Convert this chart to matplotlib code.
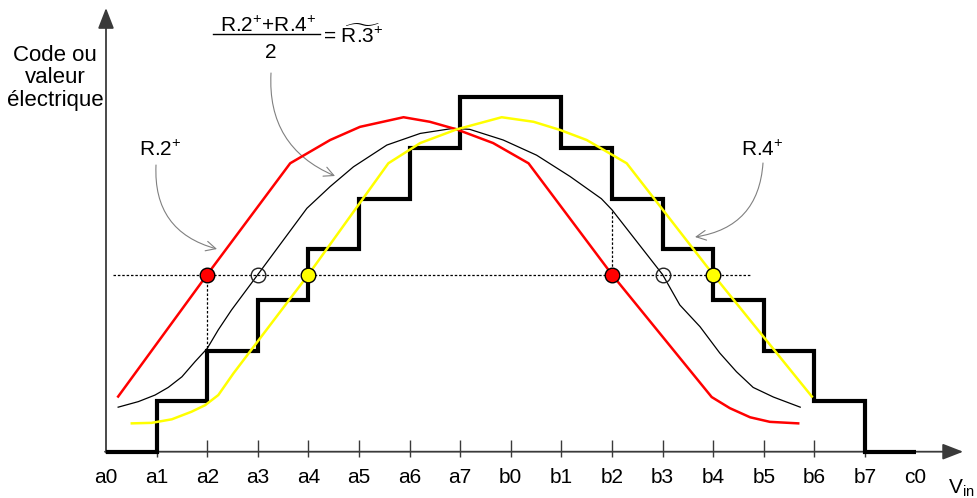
import matplotlib.pyplot as plt
from matplotlib.lines import Line2D

plt.rcParams['font.family'] = ['Liberation Sans', 'DejaVu Sans']
plt.rcParams['mathtext.fontset'] = 'custom'
plt.rcParams['mathtext.rm'] = 'Liberation Sans'
plt.rcParams['mathtext.it'] = 'Liberation Sans:italic'
plt.rcParams['mathtext.bf'] = 'Liberation Sans:bold'

# x axis codes (one unit per tick)
tick_labels = ['a0', 'a1', 'a2', 'a3', 'a4', 'a5', 'a6', 'a7',
               'b0', 'b1', 'b2', 'b3', 'b4', 'b5', 'b6', 'b7', 'c0']

# output code staircase
step_edges = [0, 1, 2, 3, 4, 5, 6, 7, 9, 10, 11, 12, 13, 14, 15, 16]
step_codes = [0, 1, 2, 3, 4, 5, 6, 7, 6, 5, 4, 3, 2, 1, 0]

# R.2+ (red)
red_x = [0.24, 2.0, 3.64, 4.43, 5.02, 5.88, 6.40, 6.93, 7.65, 8.35, 10.0,
         11.97, 12.33, 12.73, 13.12, 13.68]
red_y = [1.09, 3.5, 5.70, 6.16, 6.42, 6.61, 6.52, 6.37, 6.10, 5.70, 3.5,
         1.08, 0.86, 0.68, 0.59, 0.56]

# R.4+ (yellow)
yel_x = [0.51, 0.90, 1.30, 1.69, 1.96, 2.22, 2.52, 4.0, 5.58, 6.21, 6.93,
         7.82, 8.45, 8.97, 9.50, 10.29, 12.0, 13.95]
yel_y = [0.56, 0.57, 0.64, 0.79, 0.92, 1.12, 1.55, 3.5, 5.70, 6.10, 6.37,
         6.61, 6.52, 6.36, 6.16, 5.70, 3.5, 1.09]

# (R.2+ + R.4+)/2 (thin black)
avg_x = [0.24, 0.64, 0.97, 1.23, 1.50, 1.76, 2.0, 2.22, 2.48, 3.0, 3.97,
         4.43, 4.89, 5.55, 6.21, 6.86, 7.19, 7.85, 8.51, 9.17, 9.79, 10.0,
         11.0, 11.34, 11.74, 12.13, 12.46, 12.79, 13.19, 13.72]
avg_y = [0.88, 0.99, 1.12, 1.27, 1.48, 1.78, 2.04, 2.41, 2.80, 3.5, 4.81,
         5.24, 5.63, 6.06, 6.29, 6.39, 6.37, 6.16, 5.86, 5.44, 5.00, 4.78,
         3.5, 2.90, 2.47, 1.95, 1.58, 1.27, 1.08, 0.88]

level = 3.5
red_hits = [2, 10]
yel_hits = [4, 12]
avg_hits = [3, 11]


def fx(px):
    return px / 977


def fy(py):
    return 1 - py / 498


fig = plt.figure(figsize=(9.77, 4.98), dpi=100)
ax = fig.add_axes([0, 0, 1, 1])
ax.set_xlim(-106 / 50.6, (977 - 106) / 50.6)
ax.set_ylim(-(498 - 451.7) / 50.6, 451.7 / 50.6)
ax.axis('off')

axis_col = '#3a3a3a'
ax.annotate('', xy=(0, 8.77), xytext=(0, -0.02),
            arrowprops=dict(arrowstyle='-|>,head_length=0.9,head_width=0.35',
                            mutation_scale=14, color=axis_col, lw=1.3,
                            shrinkA=0, shrinkB=0))
ax.annotate('', xy=(16.94, 0), xytext=(-0.02, 0),
            arrowprops=dict(arrowstyle='-|>,head_length=0.9,head_width=0.35',
                            mutation_scale=14, color=axis_col, lw=1.3,
                            shrinkA=0, shrinkB=0))

ticks = list(range(len(tick_labels)))
ax.vlines(ticks[1:-1], -0.1, 0.23, color=axis_col, lw=1)
for t, lab in zip(ticks, tick_labels):
    ax.text(t, -0.5, lab, ha='center', va='center', fontsize=15)

ax.stairs(step_codes, step_edges, baseline=None, color='black', lw=3, zorder=3)

ax.hlines(level, 0.13, 12.73, color='black', lw=0.9, linestyle=(0, (2, 1.5)), zorder=2)
ax.vlines(red_hits[0], avg_y[6], level, color='black', lw=0.9, linestyle=(0, (2, 1.5)), zorder=2)
ax.vlines(red_hits[1], level, avg_y[21], color='black', lw=0.9, linestyle=(0, (2, 1.5)), zorder=2)

ax.plot(avg_x, avg_y, color='black', lw=0.9, zorder=4)
ax.plot(red_x, red_y, color='#ff0000', lw=1.8, zorder=4)
ax.plot(yel_x, yel_y, color='#ffff00', lw=1.8, zorder=4)

ax.plot(red_hits, [level] * 2, 'o', ms=10.5, mfc='#ff0000', mec='black', mew=1, zorder=5)
ax.plot(yel_hits, [level] * 2, 'o', ms=10.5, mfc='#ffff00', mec='black', mew=1, zorder=5)
ax.plot(avg_hits, [level] * 2, 'o', ms=10.5, mfc='none', mec='#222222', mew=1, zorder=5)

# labels
fig.text(fx(55), fy(61), 'Code ou', ha='center', va='baseline', fontsize=16)
fig.text(fx(55), fy(83), 'valeur', ha='center', va='baseline', fontsize=16)
fig.text(fx(55), fy(106), 'électrique', ha='center', va='baseline', fontsize=16)

fig.text(fx(160), fy(156), r'R.2$^{+}$', ha='center', va='baseline', fontsize=15)
fig.text(fx(762), fy(156), r'R.4$^{+}$', ha='center', va='baseline', fontsize=15)
fig.text(fx(948), fy(494), r'V$_{\mathrm{in}}$', ha='left', va='baseline', fontsize=15)

fig.text(fx(268), fy(32), r'R.2$^{+}$+R.4$^{+}$', ha='center', va='baseline', fontsize=15)
fig.add_artist(Line2D([fx(213), fx(320)], [fy(34), fy(34)], color='black', lw=1))
fig.text(fx(271), fy(58), '2', ha='center', va='baseline', fontsize=15)
fig.text(fx(323), fy(43), r'= $\widetilde{\text{R.3}}^{+}$', ha='left', va='baseline', fontsize=15)

arrow_kw = dict(arrowstyle='->,head_length=0.5,head_width=0.25', mutation_scale=14,
                color='#808080', lw=0.8, shrinkA=0, shrinkB=0)
ax.annotate('', xy=(fx(217), fy(249)), xycoords='figure fraction',
            xytext=(fx(156), fy(165)), textcoords='figure fraction',
            arrowprops=dict(connectionstyle='arc3,rad=0.4', **arrow_kw))
ax.annotate('', xy=(fx(695), fy(237)), xycoords='figure fraction',
            xytext=(fx(763), fy(163)), textcoords='figure fraction',
            arrowprops=dict(connectionstyle='arc3,rad=-0.4', **arrow_kw))
ax.annotate('', xy=(fx(335), fy(176)), xycoords='figure fraction',
            xytext=(fx(271), fy(73)), textcoords='figure fraction',
            arrowprops=dict(connectionstyle='arc3,rad=0.35', **arrow_kw))

fig.savefig('out.png', dpi=100)
